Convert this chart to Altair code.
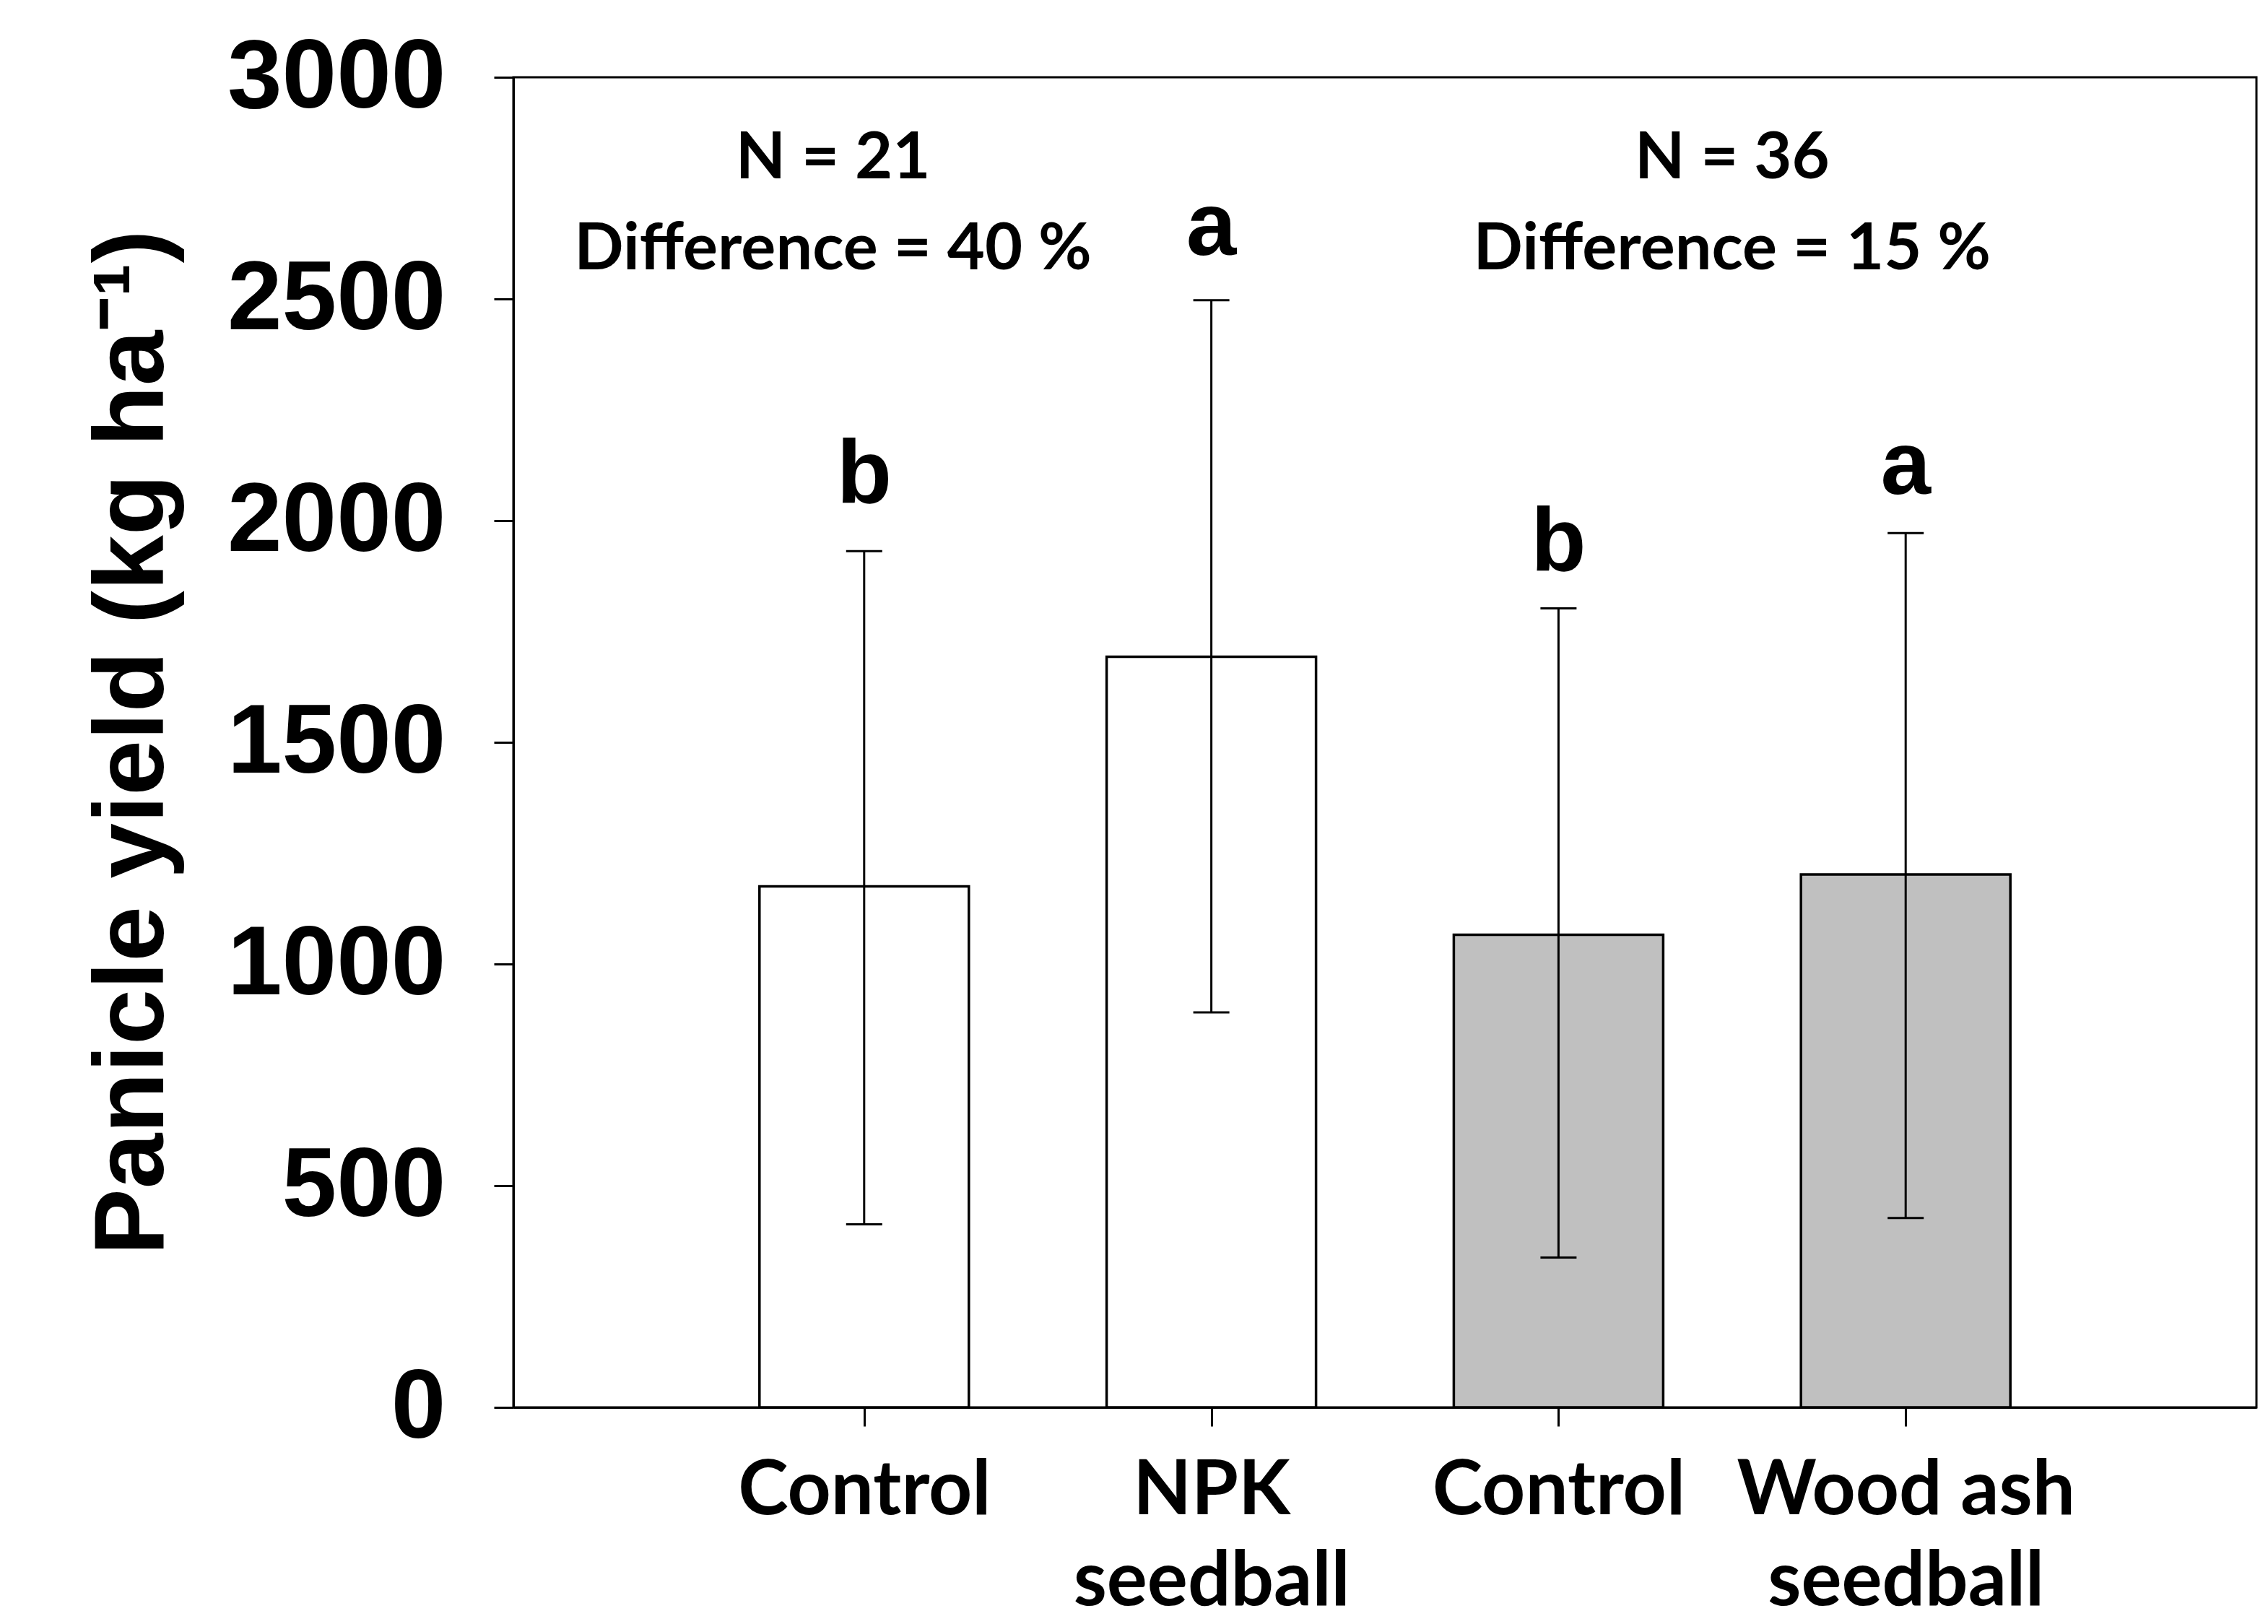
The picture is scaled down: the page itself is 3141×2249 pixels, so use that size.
import altair as alt
import pandas as pd

# ---- data ----
positions = [1, 2, 3, 4]
treatments = ["Control", "NPK seedball", "Control", "Wood ash seedball"]
label_lines = [["Control"], ["NPK", "seedball"], ["Control"], ["Wood ash", "seedball"]]
means = [1175, 1693, 1066, 1202]
err_low = [413, 891, 338, 427]
err_high = [1931, 2497, 1802, 1972]
fills = ["#FFFFFF", "#FFFFFF", "#C0C0C0", "#C0C0C0"]
letters = ["b", "a", "b", "a"]
letter_y = [2040, 2600, 1888, 2060]

group_x = [0.91, 3.5]
group_n = ["N = 21", "N = 36"]
group_diff = ["Difference = 40 %", "Difference = 15 %"]
group_n_y = [2772, 2772]
group_diff_y = [2567, 2567]

y_ticks = [0, 500, 1000, 1500, 2000, 2500, 3000]

bars = pd.DataFrame({
    "pos": positions, "treatment": treatments, "mean": means,
    "low": err_low, "high": err_high, "fill": fills,
    "letter": letters, "letter_y": letter_y,
})
groups = pd.DataFrame({
    "x": group_x + group_x,
    "y": group_n_y + group_diff_y,
    "text": group_n + group_diff,
})

# label expression built from the label list
expr = "''"
for p, lines in reversed(list(zip(positions, label_lines))):
    arr = "[" + ",".join("'" + s + "'" for s in lines) + "]"
    expr = f"datum.value == {p} ? {arr} : {expr}"

x_scale = alt.Scale(domain=[0, 5], nice=False, zero=False)
y_scale = alt.Scale(domain=[0, 3000], nice=False)

x_axis = alt.Axis(
    values=positions, labelExpr=expr, title=None, grid=False,
    tickSize=26, tickWidth=3, tickColor="black",
    domainColor="black", domainWidth=3,
    labelFont="Lato", labelFontWeight="bold", labelFontSize=105,
    labelColor="black", labelPadding=38, labelLineHeight=126,
    labelBaseline="top", labelLimit=0, labelOverlap=False,
)
y_axis = alt.Axis(
    values=y_ticks, format="d", grid=False, title="Panicle yield (kg ha⁻¹)",
    tickSize=27, tickWidth=3, tickColor="black",
    domainColor="black", domainWidth=3,
    labelFont="Liberation Sans", labelFontWeight="bold", labelFontSize=136,
    labelColor="black", labelPadding=67, labelLimit=0, labelOverlap=False,
    titleFont="Liberation Sans", titleFontWeight="bold", titleFontSize=138,
    titleColor="black", titleAngle=270, titleX=-486, titleY=921,
    titleAlign="center", titleBaseline="alphabetic", titleLimit=0,
)

base = alt.Chart(bars)

bar = base.mark_bar(size=290, stroke="black", strokeWidth=3.5).encode(
    x=alt.X("pos:Q", scale=x_scale, axis=x_axis),
    y=alt.Y("mean:Q", scale=y_scale, axis=y_axis),
    fill=alt.Fill("fill:N", scale=None),
)

err = base.mark_rule(color="black", strokeWidth=3).encode(
    x="pos:Q", y="low:Q", y2="high:Q",
)
cap_hi = base.mark_tick(orient="horizontal", size=50, thickness=3, color="black", opacity=1).encode(
    x="pos:Q", y="high:Q",
)
cap_lo = base.mark_tick(orient="horizontal", size=50, thickness=3, color="black", opacity=1).encode(
    x="pos:Q", y="low:Q",
)
let = base.mark_text(font="Liberation Sans", fontWeight="bold", fontSize=125,
                     color="black", baseline="alphabetic", align="center").encode(
    x="pos:Q", y="letter_y:Q", text="letter:N",
)
ann = alt.Chart(groups).mark_text(font="Lato", fontWeight="bold", fontSize=90,
                                  color="black", baseline="alphabetic", align="center").encode(
    x="x:Q", y="y:Q", text="text:N",
)

chart = alt.layer(bar, err, cap_hi, cap_lo, let, ann).properties(
    width=2414, height=1842,
    autosize=alt.AutoSizeParams(type="none"),
    padding={"left": 703, "top": 99, "right": 8, "bottom": 300},
    background="white",
).configure_view(stroke="black", strokeWidth=3)

chart.save("out.html", embed_options={"renderer": "svg", "actions": False})
